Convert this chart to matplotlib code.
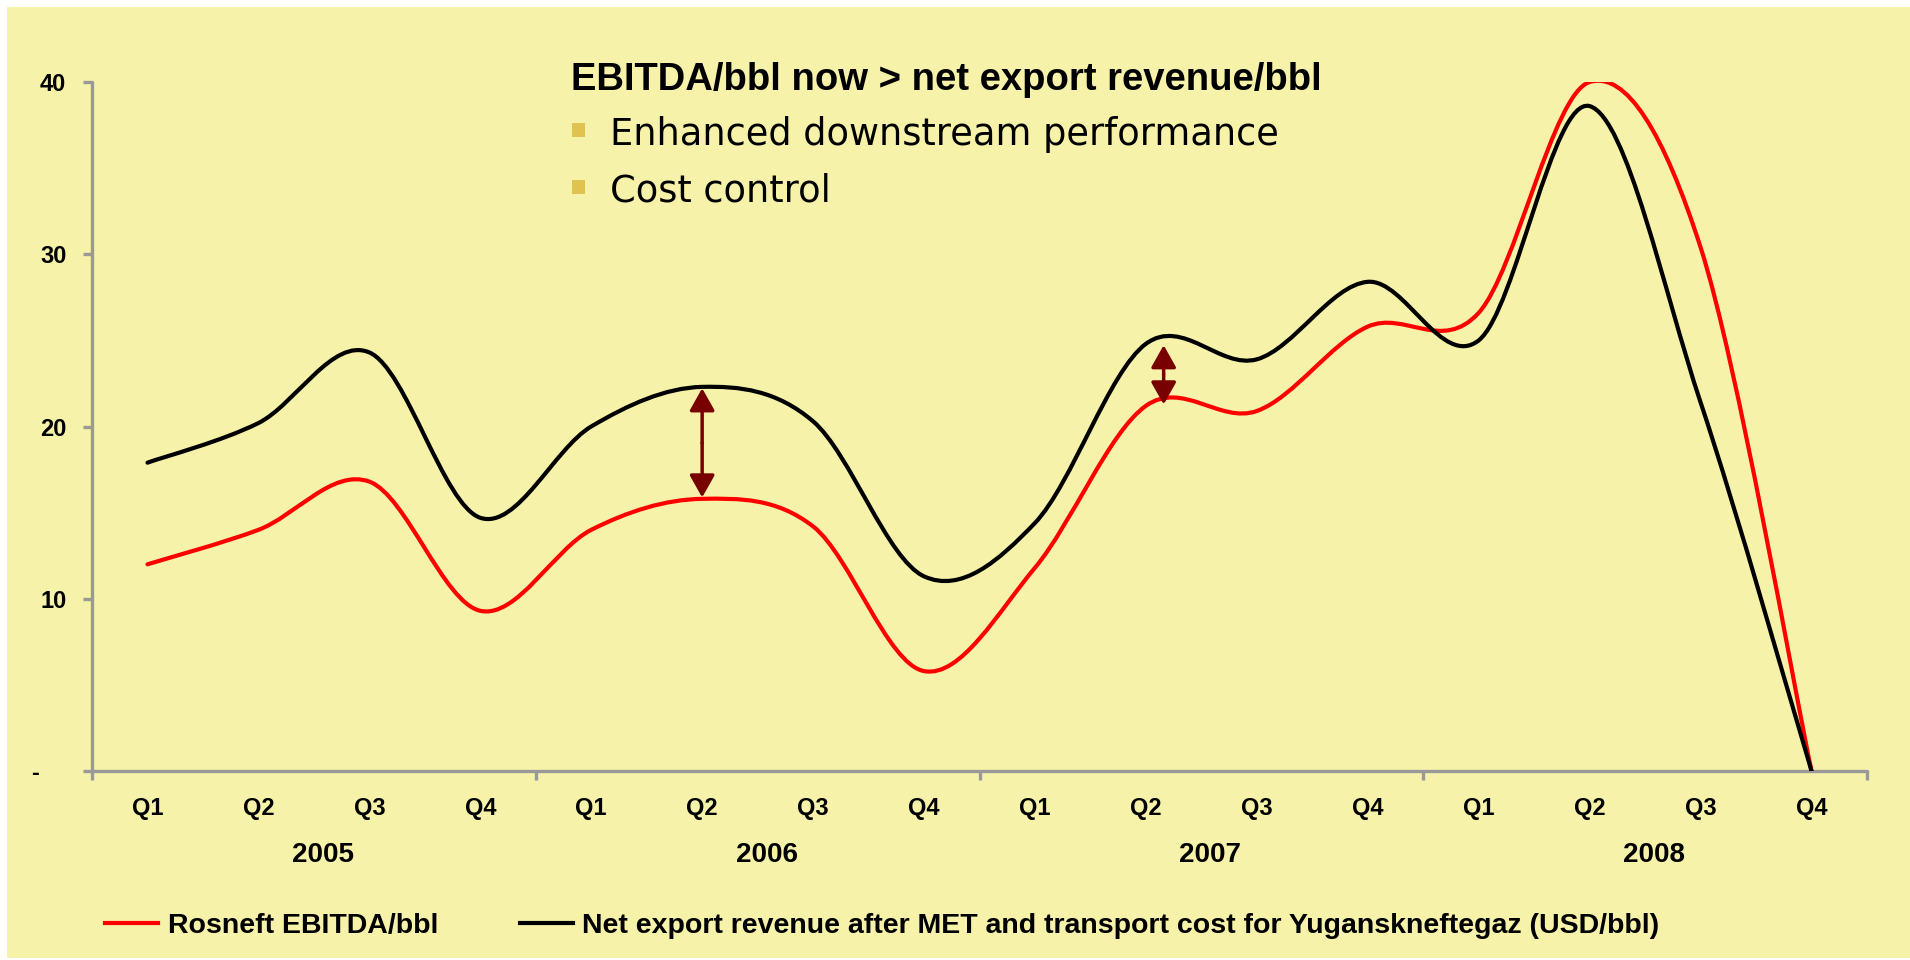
import numpy as np
import matplotlib.pyplot as plt
from matplotlib.path import Path
from matplotlib.patches import PathPatch, Rectangle
from matplotlib.lines import Line2D
import matplotlib.transforms as mtransforms

quarters = ["Q1", "Q2", "Q3", "Q4"] * 4
years = ["2005", "2006", "2007", "2008"]

# USD/bbl, one value per quarter (Q1 2005 .. Q4 2008)
rosneft_ebitda = [12.0, 14.0, 16.8, 9.3, 14.0, 15.8, 14.2, 5.8,
                  11.8, 21.2, 20.9, 25.8, 26.6, 40.0, 30.4, 0.0]
net_export = [17.9, 20.2, 24.3, 14.7, 20.0, 22.3, 20.3, 11.3,
              14.4, 24.8, 23.9, 28.4, 25.0, 38.6, 21.4, 0.0]

legend_labels = ["Rosneft EBITDA/bbl",
                 "Net export revenue after MET and transport cost for Yuganskneftegaz (USD/bbl)"]
title_text = "EBITDA/bbl now > net export revenue/bbl"
bullets = ["Enhanced downstream performance", "Cost control"]

# quarters where the gap is highlighted (index, small x shift)
gap_marks = [(5, 0.0), (9, 0.16)]

BG = "#F7F2AA"
GREY = "#999999"
BOLD = ["Liberation Sans", "DejaVu Sans"]


def smooth_path(xs, ys):
    # excel-style smoothed line: cubic bezier with catmull-rom control points
    pts = np.column_stack([xs, ys])
    ext = np.vstack([pts[0], pts, pts[-1]])
    verts = [tuple(pts[0])]
    codes = [Path.MOVETO]
    for i in range(len(pts) - 1):
        p0, p1, p2, p3 = ext[i], ext[i + 1], ext[i + 2], ext[i + 3]
        c1 = p1 + (p2 - p0) / 6.0
        c2 = p2 - (p3 - p1) / 6.0
        verts += [tuple(c1), tuple(c2), tuple(p2)]
        codes += [Path.CURVE4] * 3
    return Path(verts, codes)


W, H = 1910, 960
fig = plt.figure(figsize=(W / 100, H / 100), dpi=100)
fig.patch.set_facecolor("white")
fig.patches.append(Rectangle((7 / W, 2 / H), 1 - 7 / W, 1 - 9 / H,
                             transform=fig.transFigure, facecolor=BG,
                             edgecolor="none", zorder=-10))

ax = fig.add_axes([92 / W, 189 / H, (1867 - 92) / W, (771 - 82) / H])
ax.set_facecolor("none")
ax.set_zorder(2)

x = np.arange(len(quarters)) + 0.5
ax.add_patch(PathPatch(smooth_path(x, rosneft_ebitda), fill=False,
                       edgecolor="#FF0000", lw=3, zorder=3, capstyle="round"))
ax.add_patch(PathPatch(smooth_path(x, net_export), fill=False,
                       edgecolor="black", lw=3, zorder=3, capstyle="round"))

# double-headed gap arrows, drawn as two halves from the middle
for idx, shift in gap_marks:
    xa = x[idx] + shift
    mid = (rosneft_ebitda[idx] + net_export[idx]) / 2
    for end in (rosneft_ebitda[idx], net_export[idx]):
        ax.annotate("", xy=(xa, end), xytext=(xa, mid),
                    arrowprops=dict(arrowstyle="-|>,head_length=0.8,head_width=0.45",
                                    mutation_scale=17, color="#780000", lw=2.5,
                                    shrinkA=0, shrinkB=1),
                    zorder=4)

ax.set_xlim(0, len(quarters))
ax.set_ylim(0, 40)
for s in ["top", "right"]:
    ax.spines[s].set_visible(False)
for s in ["left", "bottom"]:
    ax.spines[s].set_color(GREY)
    ax.spines[s].set_linewidth(2.4)
    ax.spines[s].set_capstyle("round")

ax.set_yticks([0, 10, 20, 30, 40])
ax.set_yticklabels(["-    ", "10", "20", "30", "40"])
for lab in ax.get_yticklabels():
    lab.set_fontfamily(BOLD)
    lab.set_fontweight("bold")
    lab.set_fontsize(17)
ax.tick_params(axis="y", direction="out", length=6.5, width=2.4,
               color=GREY, pad=12)
ax.set_xticks(np.arange(0, len(quarters) + 1, 4))
ax.set_xticklabels([])
ax.tick_params(axis="x", direction="out", length=6.5, width=2.4, color=GREY)

trans = mtransforms.blended_transform_factory(ax.transData, ax.transAxes)
for xi, q in zip(x, quarters):
    ax.text(xi, -44 / 689, q, transform=trans, ha="center", va="baseline",
            fontsize=17, fontweight="bold", family=BOLD)
for i, yr in enumerate(years):
    ax.text(i * 4 + 2.08, -91 / 689, yr, transform=trans, ha="center",
            va="baseline", fontsize=20, fontweight="bold", family=BOLD)

# title block
fig.text(571 / W, 1 - 90 / H, title_text, ha="left", va="baseline",
         fontsize=27.5, fontweight="bold", family=BOLD)
for k, b in enumerate(bullets):
    base = 145 + k * 57
    fig.patches.append(Rectangle((572 / W, 1 - (base - 8) / H), 13 / W, 14 / H,
                                 transform=fig.transFigure,
                                 facecolor="#DFC24F", edgecolor="none"))
    fig.text(610 / W, 1 - base / H, b, ha="left", va="baseline",
             fontsize=26.5, family=["DejaVu Sans"])

# legend
leg_y = 1 - 923 / H
fig.lines.append(Line2D([105 / W, 158 / W], [leg_y, leg_y],
                        transform=fig.transFigure, color="#FF0000", lw=3))
fig.text(168 / W, 1 - 933 / H, legend_labels[0], ha="left", va="baseline",
         fontsize=20.5, fontweight="bold", family=BOLD)
fig.lines.append(Line2D([520 / W, 573 / W], [leg_y, leg_y],
                        transform=fig.transFigure, color="black", lw=3))
fig.text(582 / W, 1 - 933 / H, legend_labels[1], ha="left", va="baseline",
         fontsize=20.5, fontweight="bold", family=BOLD)

fig.savefig("out.png", dpi=100, facecolor=fig.get_facecolor())
